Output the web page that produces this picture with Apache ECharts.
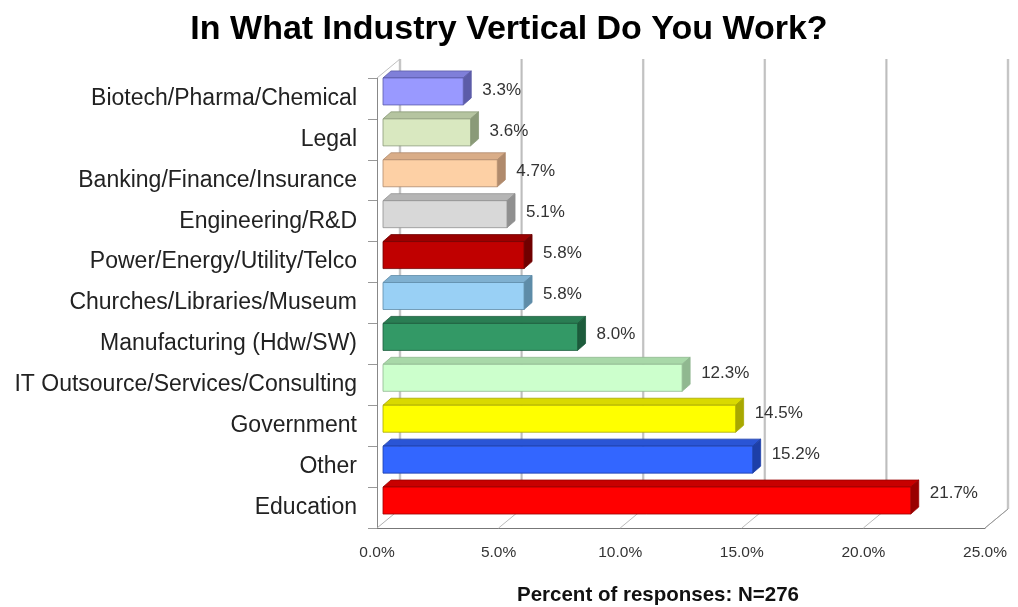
<!DOCTYPE html>
<html><head><meta charset="utf-8">
<script src="https://cdn.jsdelivr.net/npm/echarts@6/dist/echarts.min.js"></script>
<style>html,body{margin:0;padding:0;background:#fff}#c{width:1018px;height:607px}</style>
</head><body><div id="c"></div>
<script>
const title = 'In What Industry Vertical Do You Work?';
const axisTitle = 'Percent of responses: N=276';
const categories = ['Biotech/Pharma/Chemical','Legal','Banking/Finance/Insurance','Engineering/R&D','Power/Energy/Utility/Telco','Churches/Libraries/Museum','Manufacturing (Hdw/SW)','IT Outsource/Services/Consulting','Government','Other','Education'];
const values = [3.3, 3.6, 4.7, 5.1, 5.8, 5.8, 8.0, 12.3, 14.5, 15.2, 21.7];
const gridTicks = [0, 5, 10, 15, 20, 25];
const frontColors = ['#9999ff','#d9e8c0','#fdd0a5','#d8d8d8','#c00000','#99d0f5','#339966','#ccffcc','#ffff00','#3366ff','#ff0000'];
const topColors   = ['#7f7fd9','#b5c4a0','#d9ad88','#b5b5b5','#9a0000','#7fb0d0','#2a7d53','#a8d8a8','#d9d900','#2a55d5','#c80000'];
const sideColors  = ['#5c5ca8','#8a9a78','#b08a6c','#909090','#700000','#5e8ca8','#1d5c3c','#90b890','#a8a800','#1d3fa8','#990000'];

const DX = 23, DY = -19;      // wall depth
const OX = 6, OY = -7;        // bar front face offset
const TX = 8, TY = -7;        // bar depth

const chart = echarts.init(document.getElementById('c'), null, {renderer:'canvas'});

function renderWalls(params, api) {
  const cs = params.coordSys;
  const x0 = cs.x, y0 = cs.y, w = cs.width, h = cs.height;
  const yb = y0 + h;
  const els = [];
  gridTicks.forEach(t => {
    const x = api.coord([t, 0])[0];
    els.push({type:'line', shape:{x1:x+DX, y1:y0+DY, x2:x+DX, y2:yb+DY}, style:{stroke:'#d0d0d0', lineWidth:2.5}});
    els.push({type:'line', shape:{x1:x+DX, y1:y0+DY, x2:x+DX, y2:yb+DY}, style:{stroke:'#bbbbbb', lineWidth:1}});
    if (t > 0) els.push({type:'line', shape:{x1:x, y1:yb, x2:x+DX, y2:yb+DY}, style:{stroke:'#bbbbbb', lineWidth:1}});
  });
  els.push({type:'line', shape:{x1:x0, y1:y0, x2:x0+DX, y2:y0+DY}, style:{stroke:'#c0c0c0', lineWidth:1}});
  els.push({type:'line', shape:{x1:x0, y1:yb, x2:x0+DX, y2:yb+DY}, style:{stroke:'#b0b0b0', lineWidth:1}});
  els.push({type:'line', shape:{x1:x0+w, y1:yb, x2:x0+w+DX, y2:yb+DY}, style:{stroke:'#999', lineWidth:1}});
  return {type:'group', children: els};
}

function renderBar(params, api) {
  const idx = api.value(0);
  const v = api.value(1);
  const p0 = api.coord([0, idx]);
  const p1 = api.coord([v, idx]);
  const band = api.size([0, 1])[1];
  const bh = band * 0.66;
  const xL = p0[0] + OX, xR = p1[0] + OX;
  const yT = p0[1] + OY - bh / 2, yB = yT + bh;
  const i = params.dataIndex;
  return {type:'group', children:[
    {type:'polygon', shape:{points:[[xL,yT],[xL+TX,yT+TY],[xR+TX,yT+TY],[xR,yT]]}, style:{fill:topColors[i], stroke:sideColors[i], lineWidth:0.8}},
    {type:'polygon', shape:{points:[[xR,yT],[xR+TX,yT+TY],[xR+TX,yB+TY],[xR,yB]]}, style:{fill:sideColors[i], stroke:sideColors[i], lineWidth:0.8}},
    {type:'rect', shape:{x:xL, y:yT, width:xR-xL, height:bh}, style:{fill:frontColors[i], stroke:sideColors[i], lineWidth:0.8}},
    {type:'text', x:xR+TX+11, y:p0[1] + OY - 0.35*v, style:{text: v.toFixed(1)+'%', fill:'#333', font:'17px "Liberation Sans", Arial, sans-serif', textAlign:'left', textVerticalAlign:'middle'}}
  ]};
}

chart.setOption({
  backgroundColor:'#fff',
  animation:false,
  title:[
    {text:title, left:'center', top:8, textStyle:{fontFamily:'"Liberation Sans", Arial, sans-serif', fontWeight:'bold', fontSize:34, color:'#000'}},
    {text:axisTitle, left:653, top:580, textAlign:'center', textStyle:{fontFamily:'"Liberation Sans", Arial, sans-serif', fontWeight:'bold', fontSize:20.5, color:'#111'}}
  ],
  grid:{left:377, top:78, width:608, height:450, outerBoundsMode:'none', containLabel:false},
  xAxis:{type:'value', min:0, max:25, interval:5,
    axisLine:{show:true, lineStyle:{color:'#777', width:1}},
    axisTick:{show:false}, splitLine:{show:false},
    axisLabel:{formatter:v=>v.toFixed(1)+'%', margin:17, color:'#333', fontSize:15.5, fontFamily:'"Liberation Sans", Arial, sans-serif'}},
  yAxis:{type:'category', data:categories, inverse:true,
    axisLine:{show:true, lineStyle:{color:'#888', width:1}},
    axisTick:{show:true, length:9, lineStyle:{color:'#999'}},
    axisLabel:{margin:20, color:'#222', fontSize:23, fontFamily:'"Liberation Sans", Arial, sans-serif'},
    splitLine:{show:false}},
  series:[
    {type:'custom', renderItem:renderWalls, data:[[0,0]], encode:{x:0,y:1}, z:1, silent:true},
    {type:'custom', renderItem:renderBar, data:values.map((v,i)=>[i, v]), encode:{x:1, y:0}, z:3}
  ]
});
</script></body></html>
